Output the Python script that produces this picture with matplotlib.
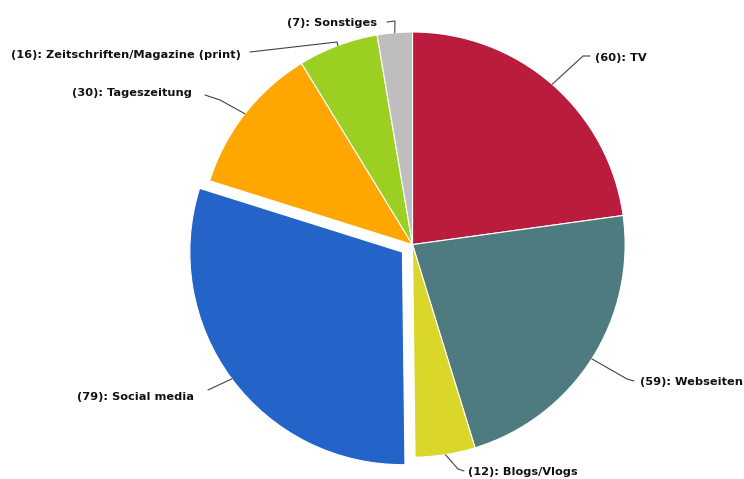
import numpy as np
import matplotlib
matplotlib.use("Agg")
import matplotlib.pyplot as plt

# Media sources and number of mentions
categories = ["TV", "Webseiten", "Blogs/Vlogs", "Social media",
              "Tageszeitung", "Zeitschriften/Magazine (print)", "Sonstiges"]
values = [60, 59, 12, 79, 30, 16, 7]
colors = ["#BA1C3E", "#4E7B7F", "#DAD62A", "#2464C8",
          "#FFA600", "#9BCF22", "#BEBEBE"]
explode = [0, 0, 0, 0.059, 0, 0, 0]

W, H = 744, 479
CX, CY, R = 412.5, 244.6, 212.6   # pie centre and radius in pixels


def to_data(px, py):
    return (px - CX) / R, (CY - py) / R


fig = plt.figure(figsize=(W / 100, H / 100), dpi=100)
ax = fig.add_axes([0, 0, 1, 1])

wedges, _ = ax.pie(values, colors=colors, explode=explode, startangle=90,
                   counterclock=False, radius=1, center=(0, 0),
                   wedgeprops=dict(edgecolor="white", linewidth=0.8))

# pie() resets the limits, so map the axes to pixel space afterwards
x0, y0 = to_data(0, H)
x1, y1 = to_data(W, 0)
ax.set_xlim(x0, x1)
ax.set_ylim(y0, y1)
ax.set_aspect("equal")
ax.axis("off")

# label text anchors (left edge x, centre y) and leader elbows, in pixels
text_pos = [(595, 58), (640, 382), (468, 472), (77, 397),
            (72, 93), (11, 55), (287, 23)]
elbows = [(583, 56), (627, 379), (458, 469), (208, 390),
          (220, 100), (337, 42), (395, 21)]
line_ends = [(590, 56), (634, 381), (464, 471), (208, 390),
             (205, 95), (250, 52), (387, 22)]

for w, cat, val, tp, el, le in zip(wedges, categories, values,
                                   text_pos, elbows, line_ends):
    mid = np.deg2rad((w.theta1 + w.theta2) / 2)
    cx, cy = w.center
    ax_, ay_ = cx + np.cos(mid), cy + np.sin(mid)
    ex, ey = to_data(*el)
    lx, ly = to_data(*le)
    ax.plot([ax_, ex, lx], [ay_, ey, ly], color="#444444", lw=0.8,
            solid_capstyle="round")
    tx, ty = to_data(*tp)
    ax.text(tx, ty, f"({val}): {cat}", ha="left", va="center",
            fontsize=8.2, fontweight="bold", color="#111111",
            family="DejaVu Sans")

fig.savefig("out.png", dpi=100)
